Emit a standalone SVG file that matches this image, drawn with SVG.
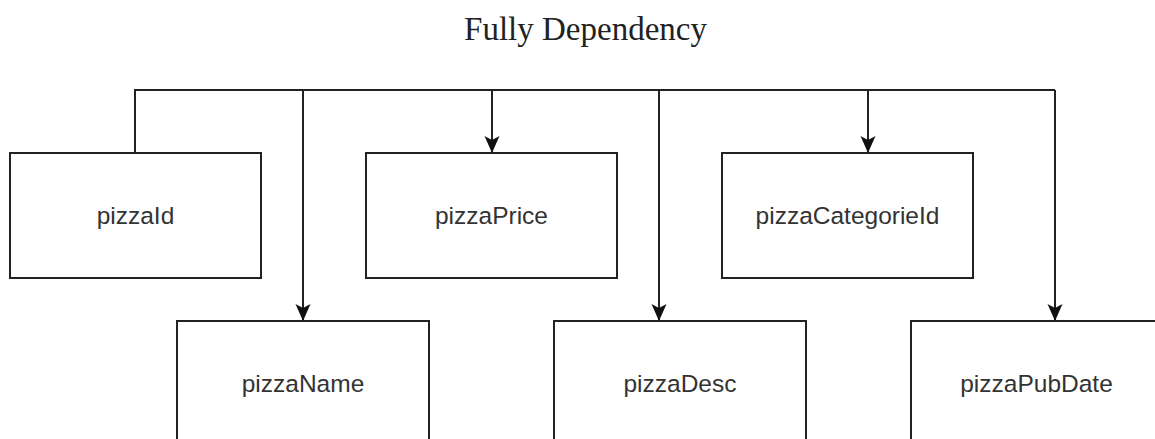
<svg xmlns="http://www.w3.org/2000/svg" width="1155" height="439" viewBox="0 0 1155 439">
  <defs>
    <style>
      .box { fill: #ffffff; stroke: #222222; stroke-width: 2; }
      .lbl { font-family: "Liberation Sans", Arial, sans-serif; font-size: 24.5px; fill: #333333; text-anchor: middle; }
      .title { font-family: "Liberation Serif", "Times New Roman", serif; font-size: 33px; fill: #222222; text-anchor: middle; }
      .wire { fill: none; stroke: #222222; stroke-width: 2; }
    </style>
    <marker id="arrow" viewBox="0 0 18 18" refX="17" refY="9" markerWidth="18" markerHeight="18" markerUnits="userSpaceOnUse" orient="auto">
      <path d="M17,9 L0,1.5 L4,9 L0,16.5 Z" fill="#111111"/>
    </marker>
  </defs>
  <rect width="1155" height="439" fill="#ffffff"/>

  <text class="title" x="585.5" y="40">Fully Dependency</text>

  <g id="connectors">
    <path class="wire" d="M135,153 V90 H1055"/>
    <path class="wire" d="M303,90 V321" marker-end="url(#arrow)"/>
    <path class="wire" d="M492,90 V153" marker-end="url(#arrow)"/>
    <path class="wire" d="M659,90 V321" marker-end="url(#arrow)"/>
    <path class="wire" d="M868,90 V153" marker-end="url(#arrow)"/>
    <path class="wire" d="M1055,90 V321" marker-end="url(#arrow)"/>
  </g>

  <g id="pizzaId">
    <rect class="box" x="10" y="153" width="251" height="125"/>
    <text class="lbl" x="135.5" y="224">pizzaId</text>
  </g>
  <g id="pizzaPrice">
    <rect class="box" x="366" y="153" width="251" height="125"/>
    <text class="lbl" x="491.5" y="224">pizzaPrice</text>
  </g>
  <g id="pizzaCategorieId">
    <rect class="box" x="722" y="153" width="251" height="125"/>
    <text class="lbl" x="847.5" y="224">pizzaCategorieId</text>
  </g>
  <g id="pizzaName">
    <rect class="box" x="177" y="321" width="252" height="125"/>
    <text class="lbl" x="303" y="392">pizzaName</text>
  </g>
  <g id="pizzaDesc">
    <rect class="box" x="554" y="321" width="252" height="125"/>
    <text class="lbl" x="680" y="392">pizzaDesc</text>
  </g>
  <g id="pizzaPubDate">
    <rect class="box" x="911" y="321" width="251" height="125"/>
    <text class="lbl" x="1036.5" y="392">pizzaPubDate</text>
  </g>
</svg>
